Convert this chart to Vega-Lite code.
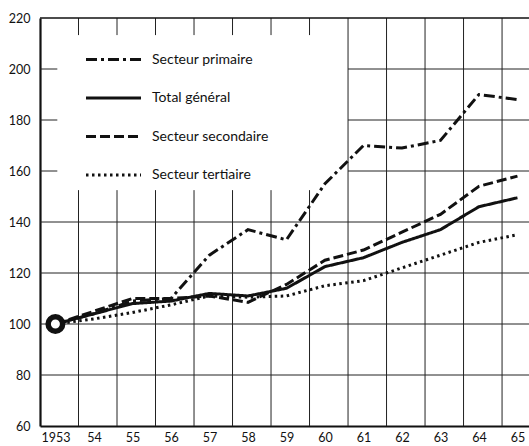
{
  "$schema": "https://vega.github.io/schema/vega-lite/v6.json",
  "width": 489,
  "height": 408,
  "autosize": "none",
  "padding": {"left": 40, "top": 18, "right": 0, "bottom": 20},
  "background": "white",
  "config": {"view": {"stroke": null}, "font": "Lato"},
  "resolve": {"axis": {"x": "independent", "y": "independent"}},
  "datasets": {
    "series": [
      {"year": 1953, "sector": "Secteur primaire", "value": 100},
      {"year": 1954, "sector": "Secteur primaire", "value": 104},
      {"year": 1955, "sector": "Secteur primaire", "value": 109},
      {"year": 1956, "sector": "Secteur primaire", "value": 110},
      {"year": 1957, "sector": "Secteur primaire", "value": 127},
      {"year": 1958, "sector": "Secteur primaire", "value": 137},
      {"year": 1959, "sector": "Secteur primaire", "value": 133},
      {"year": 1960, "sector": "Secteur primaire", "value": 155},
      {"year": 1961, "sector": "Secteur primaire", "value": 170},
      {"year": 1962, "sector": "Secteur primaire", "value": 169},
      {"year": 1963, "sector": "Secteur primaire", "value": 172},
      {"year": 1964, "sector": "Secteur primaire", "value": 190},
      {"year": 1965, "sector": "Secteur primaire", "value": 188},
      {"year": 1953, "sector": "Total général", "value": 100},
      {"year": 1954, "sector": "Total général", "value": 104},
      {"year": 1955, "sector": "Total général", "value": 108},
      {"year": 1956, "sector": "Total général", "value": 109},
      {"year": 1957, "sector": "Total général", "value": 112},
      {"year": 1958, "sector": "Total général", "value": 111},
      {"year": 1959, "sector": "Total général", "value": 114},
      {"year": 1960, "sector": "Total général", "value": 122.5},
      {"year": 1961, "sector": "Total général", "value": 126},
      {"year": 1962, "sector": "Total général", "value": 132},
      {"year": 1963, "sector": "Total général", "value": 137},
      {"year": 1964, "sector": "Total général", "value": 146},
      {"year": 1965, "sector": "Total général", "value": 149.5},
      {"year": 1953, "sector": "Secteur secondaire", "value": 100},
      {"year": 1954, "sector": "Secteur secondaire", "value": 105},
      {"year": 1955, "sector": "Secteur secondaire", "value": 110},
      {"year": 1956, "sector": "Secteur secondaire", "value": 110},
      {"year": 1957, "sector": "Secteur secondaire", "value": 111},
      {"year": 1958, "sector": "Secteur secondaire", "value": 108.5},
      {"year": 1959, "sector": "Secteur secondaire", "value": 115.5},
      {"year": 1960, "sector": "Secteur secondaire", "value": 125},
      {"year": 1961, "sector": "Secteur secondaire", "value": 129},
      {"year": 1962, "sector": "Secteur secondaire", "value": 136},
      {"year": 1963, "sector": "Secteur secondaire", "value": 143},
      {"year": 1964, "sector": "Secteur secondaire", "value": 154},
      {"year": 1965, "sector": "Secteur secondaire", "value": 158},
      {"year": 1953, "sector": "Secteur tertiaire", "value": 100},
      {"year": 1954, "sector": "Secteur tertiaire", "value": 102},
      {"year": 1955, "sector": "Secteur tertiaire", "value": 104.5},
      {"year": 1956, "sector": "Secteur tertiaire", "value": 107.5},
      {"year": 1957, "sector": "Secteur tertiaire", "value": 111},
      {"year": 1958, "sector": "Secteur tertiaire", "value": 110.5},
      {"year": 1959, "sector": "Secteur tertiaire", "value": 111},
      {"year": 1960, "sector": "Secteur tertiaire", "value": 115},
      {"year": 1961, "sector": "Secteur tertiaire", "value": 117},
      {"year": 1962, "sector": "Secteur tertiaire", "value": 122},
      {"year": 1963, "sector": "Secteur tertiaire", "value": 127},
      {"year": 1964, "sector": "Secteur tertiaire", "value": 132},
      {"year": 1965, "sector": "Secteur tertiaire", "value": 135}
    ],
    "vgrid": [
      {"x": 1953.6}, {"x": 1954.6}, {"x": 1955.6}, {"x": 1956.6}, {"x": 1957.6}, {"x": 1958.6},
      {"x": 1959.6}, {"x": 1960.6}, {"x": 1961.6}, {"x": 1962.6}, {"x": 1963.6}, {"x": 1964.6}
    ],
    "hgrid": [
      {"y": 80}, {"y": 100}, {"y": 120}, {"y": 140}, {"y": 160}, {"y": 180}, {"y": 200}
    ],
    "one": [{"k": 1}],
    "start": [{"year": 1953, "value": 100}]
  },
  "layer": [
    {
      "data": {"name": "vgrid"},
      "transform": [{"filter": "datum.x < 1960"}],
      "mark": {"type": "rule", "color": "#222", "strokeWidth": 1},
      "encoding": {
        "x": {"field": "x", "type": "quantitative", "scale": {"domain": [1952.6, 1965.3], "nice": false, "zero": false}, "axis": null},
        "y": {"datum": 60, "type": "quantitative", "scale": {"domain": [60, 220], "nice": false, "zero": false}, "axis": null},
        "y2": {"datum": 152.5}
      }
    },
    {
      "data": {"name": "vgrid"},
      "transform": [{"filter": "datum.x < 1960"}],
      "mark": {"type": "rule", "color": "#222", "strokeWidth": 1},
      "encoding": {
        "x": {"field": "x", "type": "quantitative", "axis": null},
        "y": {"datum": 213.3, "type": "quantitative", "axis": null},
        "y2": {"datum": 220}
      }
    },
    {
      "data": {"name": "vgrid"},
      "transform": [{"filter": "datum.x > 1960"}],
      "mark": {"type": "rule", "color": "#222", "strokeWidth": 1},
      "encoding": {
        "x": {"field": "x", "type": "quantitative", "axis": null},
        "y": {"datum": 60, "type": "quantitative", "axis": null},
        "y2": {"datum": 220}
      }
    },
    {
      "data": {"name": "hgrid"},
      "transform": [{"filter": "datum.y < 150"}],
      "mark": {"type": "rule", "color": "#222", "strokeWidth": 1},
      "encoding": {
        "y": {"field": "y", "type": "quantitative", "axis": null},
        "x": {"datum": 1952.6, "type": "quantitative", "axis": null},
        "x2": {"datum": 1965.3}
      }
    },
    {
      "data": {"name": "hgrid"},
      "transform": [{"filter": "datum.y > 150"}],
      "mark": {"type": "rule", "color": "#222", "strokeWidth": 1},
      "encoding": {
        "y": {"field": "y", "type": "quantitative", "axis": null},
        "x": {"datum": 1960.6, "type": "quantitative", "axis": null},
        "x2": {"datum": 1965.3}
      }
    },
    {
      "data": {"name": "hgrid"},
      "transform": [{"filter": "datum.y > 150"}],
      "mark": {"type": "rule", "color": "#222", "strokeWidth": 1},
      "encoding": {
        "y": {"field": "y", "type": "quantitative", "axis": null},
        "x": {"datum": 1952.6, "type": "quantitative", "axis": null},
        "x2": {"datum": 1953.05}
      }
    },
    {
      "data": {"name": "one"},
      "mark": {"type": "rule", "color": "#111", "strokeWidth": 1.6},
      "encoding": {
        "y": {"datum": 220, "type": "quantitative", "axis": null},
        "x": {"datum": 1952.6, "type": "quantitative", "axis": null},
        "x2": {"datum": 1965.3}
      }
    },
    {
      "data": {"name": "series"},
      "mark": {"type": "line", "color": "#111", "strokeWidth": 3, "strokeCap": "butt"},
      "encoding": {
        "x": {
          "field": "year", "type": "quantitative",
          "axis": {
            "orient": "bottom", "title": null,
            "values": [1953, 1954, 1955, 1956, 1957, 1958, 1959, 1960, 1961, 1962, 1963, 1964, 1965],
            "labelExpr": "datum.value == 1953 ? '1953' : substring(toString(datum.value), 2, 4)",
            "ticks": false, "grid": false,
            "domainColor": "#111", "domainWidth": 2.2,
            "labelFont": "Lato", "labelFontSize": 12.5, "labelColor": "#111",
            "labelPadding": 5, "labelFlush": false, "labelOverlap": false
          }
        },
        "y": {
          "field": "value", "type": "quantitative",
          "axis": {
            "orient": "left", "title": null,
            "values": [60, 80, 100, 120, 140, 160, 180, 200, 220],
            "ticks": false, "grid": false,
            "domainColor": "#111", "domainWidth": 2.2,
            "labelFont": "Lato", "labelFontSize": 12.5, "labelColor": "#111",
            "labelPadding": 10, "labelFlush": false, "labelOverlap": false
          }
        },
        "strokeDash": {
          "field": "sector", "type": "nominal",
          "scale": {
            "domain": ["Secteur primaire", "Total général", "Secteur secondaire", "Secteur tertiaire"],
            "range": [[11, 4, 3, 4], [1, 0], [10, 4], [2.5, 3.5]]
          },
          "legend": {
            "title": null, "orient": "none", "legendX": 44, "legendY": 12,
            "symbolType": "stroke", "symbolSize": 3025, "symbolStrokeWidth": 3.2,
            "symbolStrokeColor": "#111", "labelFont": "Lato", "labelFontSize": 14,
            "labelColor": "#111", "labelOffset": 9, "rowPadding": 1.5, "padding": 0
          }
        }
      }
    },
    {
      "data": {"name": "start"},
      "mark": {"type": "point", "shape": "circle", "filled": false, "fill": "white", "fillOpacity": 1, "stroke": "#111", "strokeWidth": 5.5, "size": 210, "opacity": 1},
      "encoding": {
        "x": {"field": "year", "type": "quantitative", "axis": null},
        "y": {"field": "value", "type": "quantitative", "axis": null}
      }
    }
  ]
}
